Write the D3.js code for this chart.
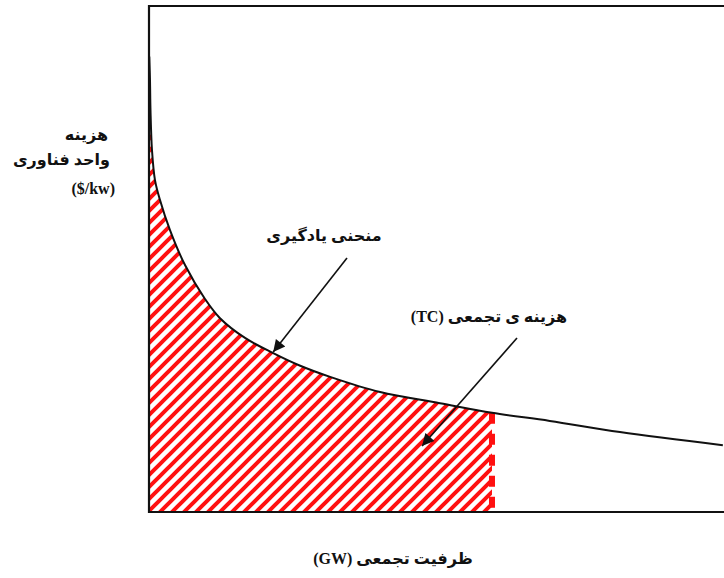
<!DOCTYPE html>
<html>
<head>
<meta charset="utf-8">
<script src="https://cdn.jsdelivr.net/npm/d3@7"></script>
<style>
  html, body { margin: 0; padding: 0; background: #fff; }
  svg text { font-family: "Liberation Serif", "DejaVu Sans", serif; font-weight: bold; fill: #111; }
</style>
</head>
<body>
<svg id="chart" width="724" height="578"></svg>
<script>
// Learning curve (unit technology cost vs cumulative capacity)
const capacity = [0.05, 0.17, 0.26, 0.52, 1.04, 1.9, 3.65, 6.26, 9.74, 12.35, 16.7, 21.6, 26.3, 31.5, 40.2, 50.6, 59.65, 69.7, 81.9, 99.8];
const unitCost = [90, 85.4, 79.4, 71.5, 65.6, 61.7, 55.7, 48.8, 42.1, 38.3, 34.4, 31.4, 28.9, 26.7, 23.7, 21.5, 19.6, 18.0, 15.8, 13.2];
// cumulative capacity up to which the total cost (TC) is shaded
const tcCapacity = 59.65;
const labels = {
  yLabel: ["هزینه", "واحد فناوری", "($/kw)"],
  curve: "منحنی یادگیری",
  tc: "هزینه ی تجمعی (TC)",
  xLabel: "ظرفیت تجمعی (GW)"
};

(function () {
const svg = d3.select("#chart");
const mLeft = 149, mRight = 724, mTop = 6, mBottom = 512;
const x = d3.scaleLinear().domain([0, 100]).range([mLeft, mRight]);
const y = d3.scaleLinear().domain([0, 100]).range([mBottom, mTop]);

const pts = capacity.map((c, i) => ({ x: c, y: unitCost[i] }));
const curveType = d3.curveCatmullRom.alpha(0.5);

// hatch pattern
const defs = svg.append("defs");
const pat = defs.append("pattern")
  .attr("id", "hatch").attr("patternUnits", "userSpaceOnUse")
  .attr("width", 12).attr("height", 12);
pat.append("path")
  .attr("d", "M0,12 L12,0 M-3,3 L3,-3 M9,15 L15,9")
  .attr("stroke", "#ff1010").attr("stroke-width", 4);

defs.append("marker")
  .attr("id", "arrow").attr("viewBox", "0 0 10 10")
  .attr("refX", 10).attr("refY", 5)
  .attr("markerWidth", 16).attr("markerHeight", 12)
  .attr("markerUnits", "userSpaceOnUse")
  .attr("orient", "auto")
  .append("path").attr("d", "M0,0 L10,5 L0,10 Z").attr("fill", "#111");

// shaded TC area
const shaded = pts.filter(p => p.x <= tcCapacity);
shaded.unshift({ x: 0, y: unitCost[0] });
svg.append("path")
  .datum(shaded)
  .attr("d", d3.area().x(d => x(d.x)).y0(y(0)).y1(d => y(d.y)).curve(curveType))
  .attr("fill", "url(#hatch)");

// dashed red boundary
const tcCost = unitCost[capacity.indexOf(tcCapacity)];
svg.append("line")
  .attr("x1", x(tcCapacity)).attr("x2", x(tcCapacity))
  .attr("y1", y(tcCost)).attr("y2", y(0))
  .attr("stroke", "#ff1010").attr("stroke-width", 6)
  .attr("stroke-dasharray", "11,10");

// learning curve
svg.append("path")
  .datum(pts)
  .attr("d", d3.line().x(d => x(d.x)).y(d => y(d.y)).curve(curveType))
  .attr("fill", "none").attr("stroke", "#111").attr("stroke-width", 2);

// frame: top, left, bottom
svg.append("path")
  .attr("d", `M${x(100)},${y(100)} L${x(0)},${y(100)} L${x(0)},${y(0)} L${x(100)},${y(0)}`)
  .attr("fill", "none").attr("stroke", "#111").attr("stroke-width", 2.2);

// arrows
svg.append("line")
  .attr("x1", 347).attr("y1", 258).attr("x2", x(21.6)).attr("y2", y(31.4) - 1)
  .attr("stroke", "#111").attr("stroke-width", 1.6).attr("marker-end", "url(#arrow)");
svg.append("line")
  .attr("x1", 517).attr("y1", 338).attr("x2", 422).attr("y2", 446)
  .attr("stroke", "#111").attr("stroke-width", 1.6).attr("marker-end", "url(#arrow)");

// texts
svg.append("text").attr("x", 108).attr("y", 140).attr("text-anchor", "end")
  .attr("font-size", 16).text(labels.yLabel[0]);
svg.append("text").attr("x", 110).attr("y", 165).attr("text-anchor", "end")
  .attr("font-size", 16).text(labels.yLabel[1]);
svg.append("text").attr("x", 115).attr("y", 194).attr("text-anchor", "end")
  .attr("font-size", 16).text(labels.yLabel[2]);
svg.append("text").attr("x", 324).attr("y", 241).attr("text-anchor", "middle")
  .attr("direction", "rtl").attr("font-size", 16).text(labels.curve);
svg.append("text").attr("x", 489).attr("y", 322).attr("text-anchor", "middle")
  .attr("direction", "rtl").attr("font-size", 16).text(labels.tc);
svg.append("text").attr("x", 393).attr("y", 564).attr("text-anchor", "middle")
  .attr("direction", "rtl").attr("font-size", 16).text(labels.xLabel);
})();
</script>
</body>
</html>
